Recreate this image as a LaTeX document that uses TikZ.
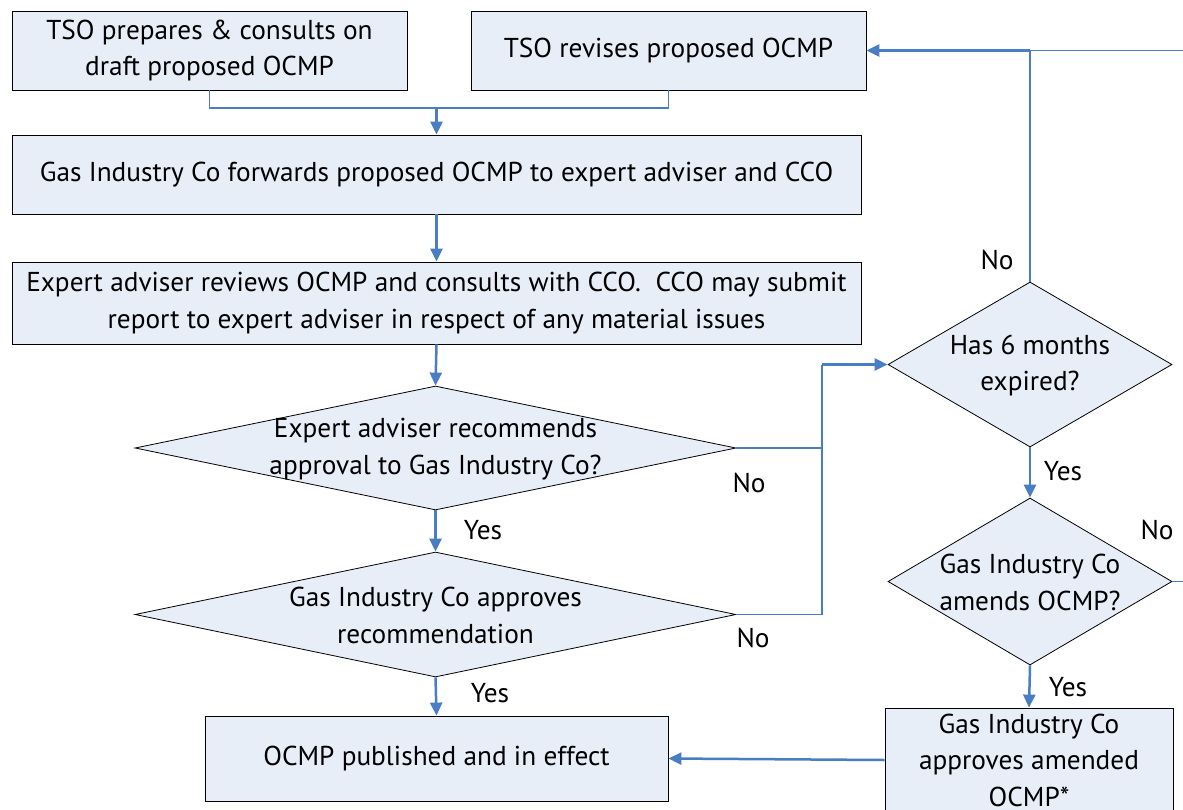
\documentclass[tikz,border=0pt]{standalone}
\usepackage{fontspec}
\setmainfont{PT Sans}
\usetikzlibrary{shapes.geometric,arrows.meta,calc}
\definecolor{boxfill}{HTML}{E8EEF8}
\definecolor{linkblue}{HTML}{4A7EC4}
\tikzset{
  base/.style={font=\fontsize{27.3}{36.5}\selectfont, align=center},
  procbox/.style={base, draw=black, line width=0.8pt, fill=boxfill, inner sep=0pt},
  dia/.style={draw=black, line width=0.8pt, fill=boxfill, shape=diamond, inner sep=0pt},
  txt/.style={base, inner sep=0pt},
  lbl/.style={font=\fontsize{27.3}{36.5}\selectfont, inner sep=0pt},
  link/.style={draw=linkblue, line width=1.6pt},
  arr/.style={draw=linkblue, line width=2.5pt, -{Triangle[length=13pt,width=12pt]}},
}
\begin{document}
\begin{tikzpicture}[x=1pt,y=-1pt]
\clip (0,0) rectangle (1183,809);
\fill[white] (0,0) rectangle (1183,809);
% boxes
\node[procbox, minimum width=395pt, minimum height=79pt] (A) at (209.5,50.5) {TSO prepares \& consults on\\draft proposed OCMP};
\node[procbox, minimum width=395pt, minimum height=79pt] (B) at (668.5,50.5) {TSO revises proposed OCMP};
\node[procbox, minimum width=849pt, minimum height=79pt] (C) at (436.5,174.5) {Gas Industry Co forwards proposed OCMP to expert adviser and CCO};
\node[procbox, minimum width=849pt, minimum height=82pt] (D) at (436.5,303) {Expert adviser reviews OCMP and consults with CCO.\ \ CCO may submit\\report to expert adviser in respect of any material issues};
\node[dia, minimum width=601pt, minimum height=124pt] (E) at (435.5,448) {};
\node[txt] (Et) at (435.5,449) {Expert adviser recommends\\approval to Gas Industry Co?};
\node[dia, minimum width=601pt, minimum height=125pt] (F) at (435.5,614.5) {};
\node[txt] (Ft) at (435.5,615.5) {Gas Industry Co approves\\recommendation};
\node[procbox, minimum width=463pt, minimum height=85pt] (G) at (436.5,758.5) {OCMP published and in effect};
\node[dia, minimum width=284pt, minimum height=165pt] (H) at (1030,364.5) {};
\node[txt] (Ht) at (1030,365.5) {Has 6 months\\expired?};
\node[dia, minimum width=284pt, minimum height=167pt] (I) at (1030,581.5) {};
\node[txt] (It) at (1030,582.5) {Gas Industry Co\\amends OCMP?};
\node[procbox, minimum width=288pt, minimum height=104pt] (J) at (1029,760) {Gas Industry Co\\approves amended\\OCMP*};
% coordinates
\coordinate (m1) at (436.5,108);
\coordinate (jx) at (822,448);
\coordinate (jy) at (822,364.5);
\coordinate (r1) at (1183,50.5);
\coordinate (r2) at (1183,581.5);
% connectors
\draw[link] (A.south) |- (m1) -| (B.south);
\draw[arr] (m1) -- (C.north);
\draw[arr] (C.south) -- (D.north);
\draw[arr] (D.south) -- (E.north);
\draw[arr] (E.south) -- (F.north);
\draw[arr] (F.south) -- (G.north);
\draw[link] (E.east) -- (jx);
\draw[link] (F.east) -| (jx) -- (jy);
\draw[arr] (jy) -- (H.west);
\draw[link] (r1) -- (H.north |- r1);
\draw[arr] (H.north |- r1) -- (B.east);
\draw[link] (H.north) -- (H.north |- r1);
\draw[arr] (H.south) -- (I.north);
\draw[link] (I.east) -- (r2);
\draw[arr] (I.south) -- (J.north);
\draw[arr] (J.west) -- (G.east);
% labels
\node[lbl] (l1) at (483,530) {Yes};
\node[lbl] (l2) at (490,693) {Yes};
\node[lbl] (l3) at (749,483) {No};
\node[lbl] (l4) at (753,638) {No};
\node[lbl] (l5) at (997,260) {No};
\node[lbl] (l6) at (1063,471) {Yes};
\node[lbl] (l7) at (1157,530) {No};
\node[lbl] (l8) at (1068,687) {Yes};
\end{tikzpicture}
\end{document}
